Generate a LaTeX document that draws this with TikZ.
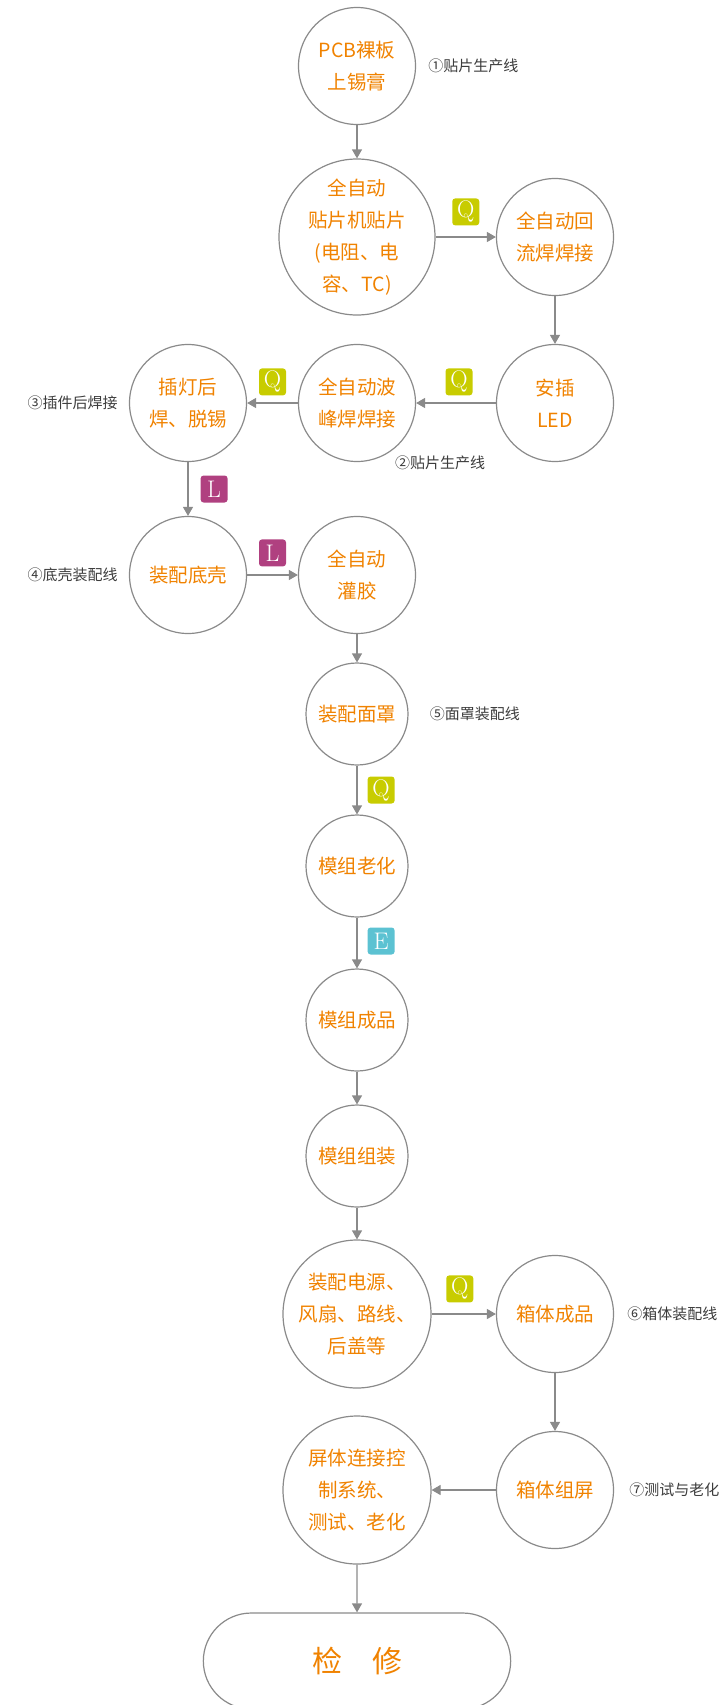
\documentclass[tikz,border=0pt]{standalone}
\usepackage{fontspec}
\newfontfamily\cjk{Noto Sans CJK SC}
\usetikzlibrary{arrows.meta,positioning,shapes.misc}
\definecolor{procorange}{RGB}{240,130,0}
\definecolor{linegray}{RGB}{138,138,138}
\definecolor{notegray}{RGB}{60,60,60}
\definecolor{qgreen}{RGB}{200,204,0}
\definecolor{lpurple}{RGB}{176,64,128}
\definecolor{ecyan}{RGB}{92,194,210}

\begin{document}
\begin{tikzpicture}[x=1pt,y=-1pt]
\tikzstyle{proc}=[circle, draw=linegray, line width=1.2pt, inner sep=0pt, align=center, text=procorange, font=\cjk\fontsize{19.5}{32}\selectfont]
\tikzstyle{big}=[proc, minimum size=156pt]
\tikzstyle{mid}=[proc, minimum size=117pt]
\tikzstyle{small}=[proc, minimum size=102pt]
\tikzstyle{note}=[text=notegray, inner sep=0pt, font=\cjk\fontsize{15}{15}\selectfont]
\tikzstyle{flow}=[draw=linegray, line width=1.2pt, -{Triangle[length=9pt,width=10pt]}]
\tikzstyle{tag}=[rounded corners=3pt, text=white, minimum width=27pt, minimum height=27pt, inner sep=0pt, font=\fontsize{24}{24}\selectfont]
\tikzstyle{qtag}=[tag, fill=qgreen]
\tikzstyle{ltag}=[tag, fill=lpurple]
\tikzstyle{etag}=[tag, fill=ecyan]
\useasboundingbox (0,0) rectangle (723,1705);

% SMT line
\node[mid] (pcb) at (357,66) {PCB裸板\\上锡膏};
\node[big] (smt) at (357,237) {全自动\\贴片机贴片\\(电阻、电\\容、TC)};
\node[mid] (reflow) at (555,237) {全自动回\\流焊焊接};
\node[mid] (led) at (555,403) {安插\\LED};
\node[mid] (wave) at (357,403) {全自动波\\峰焊焊接};
\node[mid] (post) at (188,403) {插灯后\\焊、脱锡};
\node[mid] (shell) at (188,575) {装配底壳};
\node[mid] (glue) at (357,575) {全自动\\灌胶};
\node[small] (mask) at (357,714) {装配面罩};
\node[small] (aging) at (357,866) {模组老化};
\node[small] (module) at (357,1020) {模组成品};
\node[small] (assem) at (357,1156) {模组组装};
\node[proc, minimum size=148pt] (power) at (357,1314) {装配电源、\\风扇、路线、\\后盖等};
\node[mid] (cabinet) at (555,1314) {箱体成品};
\node[mid] (screen) at (555,1490) {箱体组屏};
\node[proc, minimum size=148pt] (ctrl) at (357,1490) {屏体连接控\\制系统、\\测试、老化};
\node[rounded rectangle, draw=linegray, line width=1.2pt, minimum width=314pt, minimum height=96pt, text=procorange, font=\cjk\fontsize{30}{30}\selectfont] (repair) at (357,1661) {检　修};

% line notes
\node[note, anchor=west, right=12pt of pcb] (n1) {①贴片生产线};
\node[note, anchor=west] (n2) at (395,463) {②贴片生产线};
\node[note, left=11pt of post] (n3) {③插件后焊接};
\node[note, left=11pt of shell] (n4) {④底壳装配线};
\node[note, right=21pt of mask] (n5) {⑤面罩装配线};
\node[note, right=13pt of cabinet] (n6) {⑥箱体装配线};
\node[note, right=15pt of screen] (n7) {⑦测试与老化};

% connectors
\draw[flow] (pcb) -- (smt);
\draw[flow] (smt) -- node[qtag, midway, above=11pt] {Q} (reflow);
\draw[flow] (reflow) -- (led);
\draw[flow] (led) -- node[qtag, midway, above=7pt, xshift=3pt] {Q} (wave);
\draw[flow] (wave) -- node[qtag, midway, above=7pt] {Q} (post);
\draw[flow] (post) -- node[ltag, midway, right=12pt] {L} (shell);
\draw[flow] (shell) -- node[ltag, midway, above=8pt] {L} (glue);
\draw[flow] (glue) -- (mask);
\draw[flow] (mask) -- node[qtag, midway, right=10pt] {Q} (aging);
\draw[flow] (aging) -- node[etag, midway, right=10pt, yshift=2pt] {E} (module);
\draw[flow] (module) -- (assem);
\draw[flow] (assem) -- (power);
\draw[flow] (power) -- node[qtag, midway, above=11pt, xshift=-4pt] {Q} (cabinet);
\draw[flow] (cabinet) -- (screen);
\draw[flow] (screen) -- (ctrl);
\draw[flow] (ctrl) -- (repair);
\end{tikzpicture}
\end{document}
